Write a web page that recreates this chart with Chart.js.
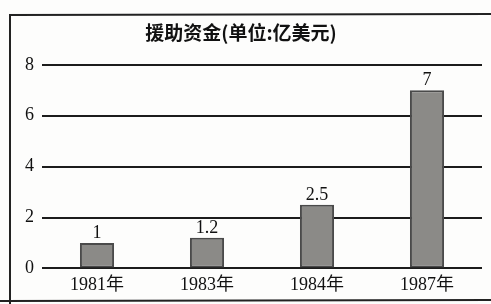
<!DOCTYPE html>
<html>
<head>
<meta charset="utf-8">
<script src="https://cdn.jsdelivr.net/npm/chart.js@4/dist/chart.umd.min.js"></script>
<style>
  html, body { margin: 0; padding: 0; background: #fdfdfc; }
  #wrap { width: 491px; height: 304px; }
</style>
</head>
<body>
<div id="wrap"><canvas id="aid_chart" width="491" height="304"></canvas></div>
<script>
// данные
const years = ["1981年", "1983年", "1984年", "1987年"];
const funds = [1, 1.2, 2.5, 7];
const yTicks = [0, 2, 4, 6, 8];

const serif = "'Liberation Serif', 'Noto Sans CJK SC', serif";

// рамка как на скане
const framePlugin = {
  id: "frame",
  beforeDraw(chart) {
    const { ctx } = chart;
    ctx.save();
    ctx.strokeStyle = "#222";
    ctx.lineWidth = 2;
    ctx.beginPath();
    ctx.moveTo(10, 304);
    ctx.lineTo(10, 15);
    ctx.lineTo(491, 14);
    ctx.moveTo(0, 301);
    ctx.lineTo(491, 300);
    ctx.stroke();
    ctx.restore();
  },
};

// подписи значений над столбиками
const valueLabels = {
  id: "valueLabels",
  afterDatasetsDraw(chart) {
    const { ctx, data } = chart;
    ctx.save();
    ctx.textAlign = "center";
    ctx.textBaseline = "bottom";
    ctx.font = "18px " + serif;
    ctx.fillStyle = "#111";
    chart.getDatasetMeta(0).data.forEach(function (bar, i) {
      ctx.fillText(String(data.datasets[0].data[i]), bar.x, bar.y - 1);
    });
    ctx.restore();
  },
};

const ctx = document.getElementById("aid_chart").getContext("2d");
const myChart = new Chart(ctx, {
  type: "bar",
  plugins: [framePlugin, valueLabels],
  data: {
    labels: years,
    datasets: [
      {
        data: funds,
        backgroundColor: "#8b8a87",
        borderColor: "#4a4a4a",
        borderWidth: 2,
        borderSkipped: false,
        categoryPercentage: 1,
        barPercentage: 0.31,
      },
    ],
  },
  options: {
    responsive: false,
    animation: false,
    layout: { padding: { left: 0, right: 9, top: 0, bottom: 2 } },
    plugins: {
      legend: { display: false },
      tooltip: { enabled: false },
      title: {
        display: true,
        text: "援助资金(单位:亿美元)",
        color: "#111",
        font: { family: "'Noto Sans CJK SC', sans-serif", size: 19, weight: "bold" },
        padding: { top: 21, bottom: 21 },
      },
    },
    scales: {
      x: {
        grid: { display: false, drawTicks: false },
        border: { display: false },
        ticks: {
          color: "#111",
          padding: 6,
          font: { family: serif, size: 18 },
        },
      },
      y: {
        min: 0,
        max: 8,
        afterBuildTicks(scale) {
          scale.ticks = yTicks.map(function (v) { return { value: v }; });
        },
        afterFit(scale) {
          scale.width = 42;
        },
        grid: { color: "#1c1c1c", lineWidth: 2, drawTicks: false },
        border: { display: false },
        ticks: {
          color: "#111",
          padding: 8,
          font: { family: serif, size: 18 },
        },
      },
    },
  },
});
</script>
</body>
</html>
